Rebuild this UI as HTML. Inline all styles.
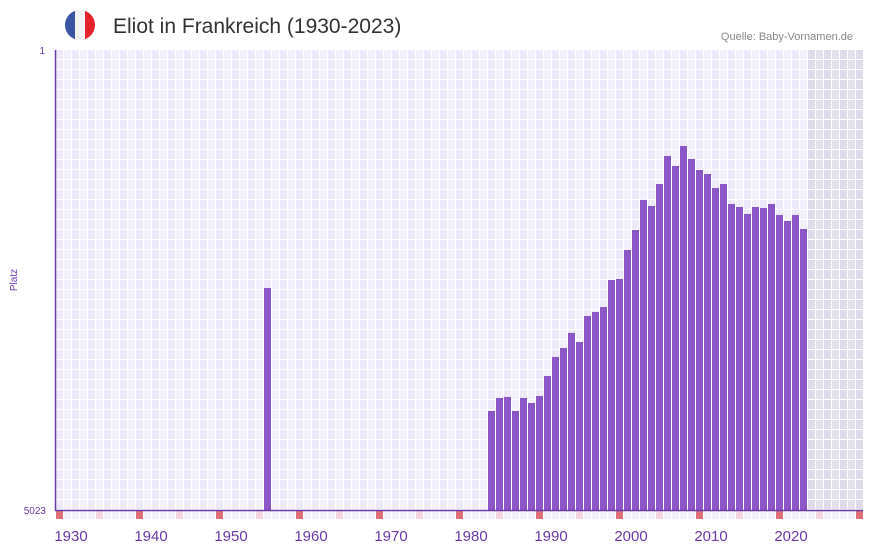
<!DOCTYPE html>
<html><head><meta charset="utf-8"><style>
body{margin:0;background:#fff;font-family:"Liberation Sans",sans-serif}
svg{display:block}
</style></head><body>
<svg width="873" height="552">
<defs><clipPath id="fc"><circle cx="80" cy="25" r="15"/></clipPath></defs>
<g clip-path="url(#fc)">
<rect x="65" y="10" width="10" height="30" fill="#3a55a4"/>
<rect x="75" y="10" width="10" height="30" fill="#f3f3f5"/>
<rect x="85" y="10" width="10" height="30" fill="#e5232b"/>
</g>
<text x="113" y="33" font-size="21" fill="#333">Eliot in Frankreich (1930-2023)</text>
<text x="853" y="40" font-size="11" fill="#888" text-anchor="end">Quelle: Baby-Vornamen.de</text>
<g id="grid"></g>
<g id="bars"></g>
<g id="marks"></g>
<line x1="55.5" y1="50" x2="55.5" y2="511" stroke="#6a3aa5" stroke-width="1.5"/>
<line x1="55" y1="510.5" x2="863" y2="510.5" stroke="#6a3aa5" stroke-width="1.5"/>
<text x="45" y="54" font-size="10" fill="#6a3aa5" text-anchor="end">1</text>
<text x="46" y="514" font-size="10" fill="#6a3aa5" text-anchor="end">5023</text>
<text transform="translate(17,280) rotate(-90)" font-size="10" fill="#6a3aa5" text-anchor="middle">Platz</text>
<g id="xlabels"></g>
</svg>
<script>
const years=[1954,1982,1983,1984,1985,1986,1987,1988,1989,1990,1991,1992,1993,1994,1995,1996,1997,1998,1999,2000,2001,2002,2003,2004,2005,2006,2007,2008,2009,2010,2011,2012,2013,2014,2015,2016,2017,2018,2019,2020,2021];
const ranks=[2599,3942,3800,3789,3942,3800,3855,3778,3560,3352,3254,3090,3189,2905,2861,2807,2512,2501,2184,1966,1638,1704,1464,1158,1267,1049,1191,1311,1355,1508,1464,1682,1715,1791,1715,1726,1682,1802,1868,1802,1955];
const xTicks=[1930,1940,1950,1960,1970,1980,1990,2000,2010,2020];
const yMin=1,yMax=5023,firstYear=1928,lastYear=2028,dataEnd=2021;
const NS="http://www.w3.org/2000/svg";
const x=y=>56+(y-firstYear)*8;
const yS=r=>50+(r-yMin)/(yMax-yMin)*460;
function mk(t,a,p){const e=document.createElementNS(NS,t);for(const k in a)e.setAttribute(k,a[k]);p.appendChild(e);return e;}
const grid=document.getElementById('grid');
for(let yr=firstYear;yr<=lastYear;yr++){
  const i=yr-firstYear;
  const fut=yr>dataEnd;
  for(let r=0;r<46;r++){
    const c=fut?(i%2?'#e4e0ec':'#e0dbeb'):(i%2?'#f3effc':'#eee9fa');
    const cell=mk('rect',{x:x(yr),y:50+r*10,width:7,height:Math.min(9,510-(50+r*10)),fill:c},grid);
    
    
  }
  const mc=yr%10==8?'#e07078':(yr%10==3?'#f5d6df':'#f3effc');
  const m=mk('rect',{x:x(yr),y:511,width:7,height:8,fill:mc},document.getElementById('marks'));
  
  
}
const bg=document.getElementById('bars');
years.forEach((yr,i)=>{
  const t=yS(ranks[i]);
  const b=mk('rect',{x:x(yr),y:t,width:7,height:510-t,fill:'#8c55c8'},bg);
  
  
});
const xl=document.getElementById('xlabels');
xTicks.forEach(t=>{
  const e=mk('text',{x:x(t)-1,y:541,'font-size':15,fill:'#6a3aa5','text-anchor':'middle'},xl);
  e.textContent=t;
  
  
});
</script>
</body></html>
